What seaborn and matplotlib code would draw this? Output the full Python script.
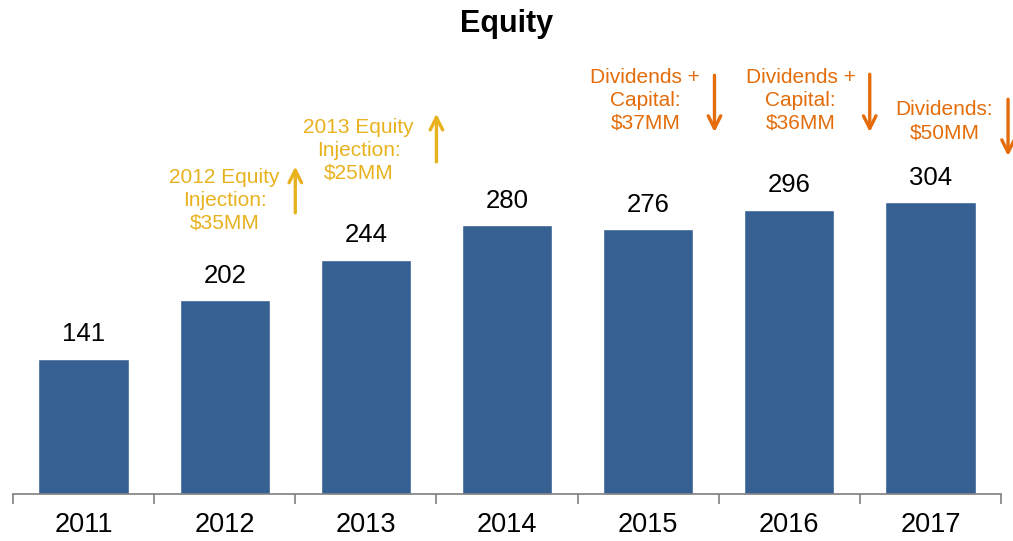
import matplotlib
matplotlib.use("Agg")
import matplotlib.pyplot as plt
import seaborn as sns
import pandas as pd

years = ["2011", "2012", "2013", "2014", "2015", "2016", "2017"]
equity = [141, 202, 244, 280, 276, 296, 304]

notes = ["2012 Equity\nInjection:\n$35MM", "2013 Equity\nInjection:\n$25MM",
         "Dividends +\nCapital:\n$37MM", "Dividends +\nCapital:\n$36MM",
         "Dividends:\n$50MM"]
note_dir = ["up", "up", "down", "down", "down"]

sns.set_style("white")
plt.rcParams["font.family"] = ["Liberation Sans", "DejaVu Sans"]

BLUE = "#366092"
GOLD = "#E8B21E"
ORANGE = "#E46C0A"

df = pd.DataFrame({"year": years, "equity": equity})

fig = plt.figure(figsize=(10.13, 5.41), dpi=100)
ax = fig.add_axes([13 / 1013, 47 / 541, 988 / 1013, 434 / 541])
sns.barplot(data=df, x="year", y="equity", color=BLUE, width=0.64, ax=ax,
            saturation=1)
ax.set_xlim(-0.5, 6.5)
ax.set_ylim(0, 452)

for i, v in enumerate(equity):
    ax.text(i, v + 13, str(v), ha="center", va="bottom", fontsize=18.5, color="black")

# annotation positions in data units: text x, text y, arrow x, arrow tail y, arrow head y
note_pos = [(1.0, 306, 1.5, 290, 344),
            (1.95, 358, 2.5, 343, 399),
            (3.98, 410, 4.47, 439, 374),
            (5.08, 410, 5.57, 440, 374),
            (6.1, 388, 6.55, 414, 349)]
for txt, d, (tx, ty, axx, y0, y1) in zip(notes, note_dir, note_pos):
    col = GOLD if d == "up" else ORANGE
    ax.text(tx, ty, txt, ha="center", va="center", fontsize=15, color=col,
            linespacing=1.27, clip_on=False)
    ax.annotate("", xy=(axx, y1), xytext=(axx, y0), annotation_clip=False,
                arrowprops=dict(arrowstyle="->,head_length=0.9,head_width=0.45",
                                color=col, lw=2.4))

ax.set_title("Equity", fontsize=22, fontweight="bold", color="black", y=1.045)
ax.set_xlabel("")
ax.set_ylabel("")
ax.set_yticks([])
ax.set_xticks(range(7))
ax.set_xticklabels(years, fontsize=19.5, color="black")
ax.set_xticks([i - 0.5 for i in range(8)], minor=True)
ax.tick_params(axis="x", which="major", length=0, pad=13)
ax.tick_params(axis="x", which="minor", bottom=True, length=7, color="#7f7f7f",
               width=1.2, direction="out")
for s in ["top", "right", "left"]:
    ax.spines[s].set_visible(False)
ax.spines["bottom"].set_color("#7f7f7f")
ax.spines["bottom"].set_linewidth(1.2)

fig.savefig("out.png", dpi=100)
